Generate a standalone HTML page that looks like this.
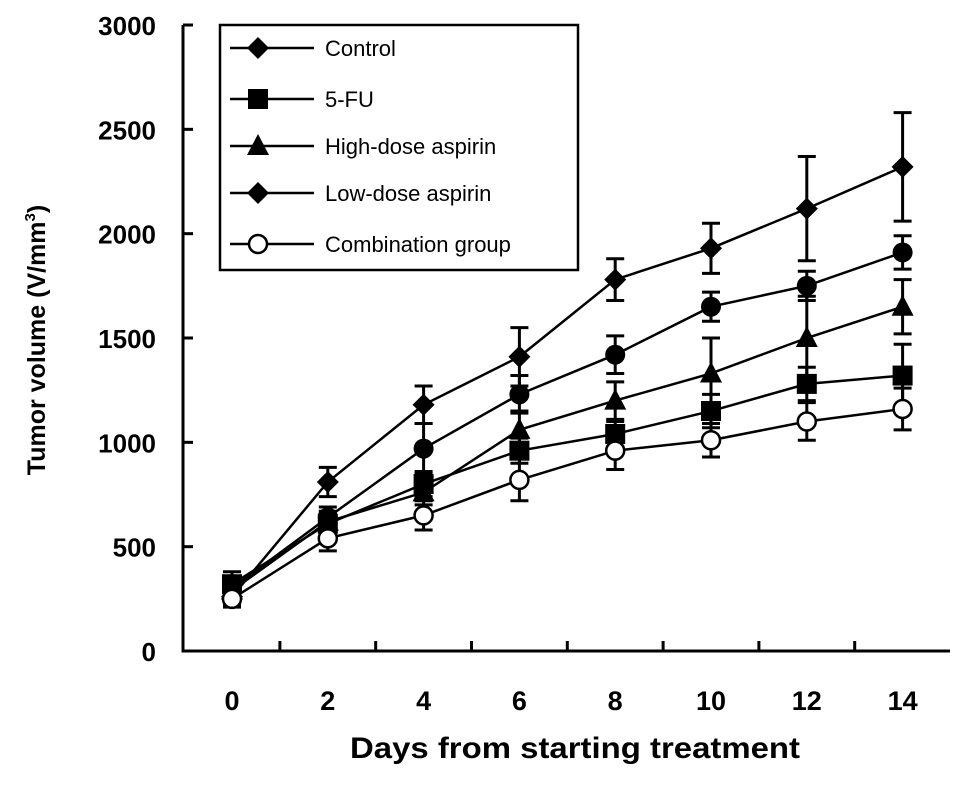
<!DOCTYPE html>
<html><head><meta charset="utf-8"><style>
body{margin:0;background:#fff}
text{font-family:"Liberation Sans",Arial,sans-serif}
</style></head><body>
<svg id="chart" width="969" height="784" viewBox="0 0 969 784" xmlns="http://www.w3.org/2000/svg">
<g id="axes"></g><g id="series"></g><g id="legend"></g>
</svg>
<script>
const days=[0,2,4,6,8,10,12,14];
const yTicks=[0,500,1000,1500,2000,2500,3000];
const controlVals=[260,810,1180,1410,1780,1930,2120,2320];
const controlErr=[40,70,90,140,100,120,250,260];
const lowVals=[300,640,970,1230,1420,1650,1750,1910];
const lowErr=[40,50,120,90,90,70,70,80];
const highVals=[290,620,760,1060,1200,1330,1500,1650];
const highErr=[40,40,60,90,90,170,200,130];
const fuVals=[320,610,800,960,1040,1150,1280,1320];
const fuErr=[60,60,60,60,60,80,80,150];
const comboVals=[250,540,650,820,960,1010,1100,1160];
const comboErr=[40,60,70,100,90,80,90,100];
const legendLabels=["Control","5-FU","High-dose aspirin","Low-dose aspirin","Combination group"];

const NS="http://www.w3.org/2000/svg";
const x=d=>232+d*47.9;
const y=v=>651-v*626/3000;
function mk(tag,at,parent){const e=document.createElementNS(NS,tag);for(const k in at)e.setAttribute(k,at[k]);parent.appendChild(e);return e;}
const axes=document.getElementById('axes'),ser=document.getElementById('series'),leg=document.getElementById('legend');
let a=mk('path',{d:'M183,25 V651 H950',stroke:'#000','stroke-width':3,fill:'none'},axes);


yTicks.forEach(t=>{
 let l=mk('line',{x1:183,x2:193,y1:y(t),y2:y(t),stroke:'#000','stroke-width':3},axes);
 
 
 let tx=mk('text',{x:156,y:y(t)+10,'text-anchor':'end','font-size':26,'font-weight':'bold'},axes);tx.textContent=t;
 
 
});
days.forEach((d,i)=>{
 if(i>0){let l=mk('line',{x1:x(d)-47.9,x2:x(d)-47.9,y1:651,y2:641,stroke:'#000','stroke-width':3},axes);
 
 }
 let tx=mk('text',{x:x(d),y:710,'text-anchor':'middle','font-size':27,'font-weight':'bold'},axes);tx.textContent=d;
 
 
});
let xt=mk('text',{x:350,y:758,'font-size':30,'font-weight':'bold',textLength:450,lengthAdjust:'spacingAndGlyphs'},axes);xt.textContent='Days from starting treatment';


let yt=mk('text',{x:0,y:0,transform:'translate(45,340) rotate(-90)','text-anchor':'middle','font-size':25,'font-weight':'bold'},axes);
yt.innerHTML='Tumor volume  (V/mm<tspan font-size="15" dy="-10">3</tspan><tspan dy="10">)</tspan>';



function marker(type,cx,cy,g){
 let s=11;
 if(type==='diamond')return mk('polygon',{points:`${cx},${cy-s} ${cx+s},${cy} ${cx},${cy+s} ${cx-s},${cy}`,fill:'#000'},g);
 if(type==='square')return mk('rect',{x:cx-10,y:cy-10,width:20,height:20,fill:'#000'},g);
 if(type==='triangle')return mk('polygon',{points:`${cx},${cy-12} ${cx+11},${cy+9} ${cx-11},${cy+9}`,fill:'#000'},g);
 if(type==='circle')return mk('circle',{cx:cx,cy:cy,r:10,fill:'#000'},g);
 return mk('circle',{cx:cx,cy:cy,r:9,fill:'#fff',stroke:'#000','stroke-width':2.5},g);
}
const seriesList=[
 ['control',controlVals,controlErr,'diamond'],
 ['low-dose-aspirin',lowVals,lowErr,'circle'],
 ['high-dose-aspirin',highVals,highErr,'triangle'],
 ['5-fu',fuVals,fuErr,'square'],
 ['combination-group',comboVals,comboErr,'open']];
seriesList.forEach(([name,vals,err,m])=>{
 const g=mk('g',{},ser);
 
 
 vals.forEach((v,i)=>{
  const cx=x(days[i]),top=y(v+err[i]),bot=y(v-err[i]);
  let e=mk('path',{d:`M${cx},${top}V${bot}M${cx-9},${top}H${cx+9}M${cx-9},${bot}H${cx+9}`,stroke:'#000','stroke-width':3,fill:'none'},g);
  
  
 });
 let p=mk('polyline',{points:vals.map((v,i)=>x(days[i])+','+y(v)).join(' '),stroke:'#000','stroke-width':2.5,fill:'none'},g);
 
 
 vals.forEach((v,i)=>{
  let mm=marker(m,x(days[i]),y(v),g);
  
  
 });
});
let box=mk('rect',{x:220,y:25,width:358,height:245,fill:'#fff',stroke:'#000','stroke-width':2.5},leg);


const legM=['diamond','square','triangle','diamond','open'];
const legY=[48,99,146,193,244];
legendLabels.forEach((lab,i)=>{
 let l=mk('line',{x1:230,x2:314,y1:legY[i],y2:legY[i],stroke:'#000','stroke-width':2.5},leg);
 
 
 let mm=marker(legM[i],258,legY[i],leg);
 
 
 let t=mk('text',{x:325,y:legY[i]+8,'font-size':22},leg);t.textContent=lab;
 
 
});
</script>
</body></html>
